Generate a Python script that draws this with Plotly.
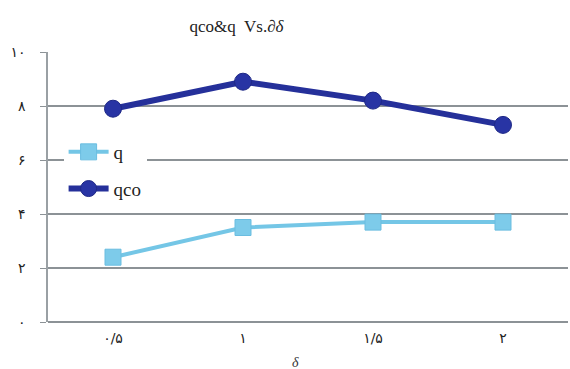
import plotly.graph_objects as go

# Categories along the δ axis (Persian numerals) and the two series
delta_labels = ["۰/۵", "۱", "۱/۵", "۲"]
q_values = [2.4, 3.5, 3.7, 3.7]
qco_values = [7.9, 8.9, 8.2, 7.3]

y_tick_vals = [0, 2, 4, 6, 8, 10]
y_tick_text = ["۰", "۲", "۴", "۶", "۸", "۱۰"]

SERIF = "Liberation Serif, Times New Roman, serif"

fig = go.Figure()

fig.add_trace(go.Scatter(
    x=delta_labels, y=q_values, name="q", mode="lines+markers",
    legendgroup="q",
    line=dict(color="#74C6E6", width=4),
    marker=dict(symbol="square", size=16, color="#7DCBEA",
                line=dict(color="#6BBDE0", width=1)),
))
fig.add_trace(go.Scatter(
    x=delta_labels, y=qco_values, name="qco", mode="lines+markers",
    legendgroup="qco",
    line=dict(color="#25309A", width=6),
    marker=dict(symbol="circle", size=17, color="#2834A4",
                line=dict(color="#1E2886", width=1)),
))

fig.update_layout(
    width=570, height=369,
    margin=dict(l=48, r=2, t=52, b=47),
    paper_bgcolor="white", plot_bgcolor="white",
    title=dict(text="qco&amp;q  Vs.<i>∂δ</i>", x=0.415, xanchor="center",
               y=0.93, yanchor="middle",
               font=dict(family=SERIF, size=17, color="#222")),
    showlegend=True,
    legend=dict(x=0.03, y=0.70, xanchor="left", yanchor="top",
                bgcolor="white", traceorder="grouped",
                font=dict(family=SERIF, size=19, color="#222"),
                itemwidth=40, tracegroupgap=9),
    font=dict(family="DejaVu Sans", color="#222"),
)

fig.update_xaxes(
    type="category", range=[-0.5, 3.5], showgrid=False, zeroline=False,
    showline=False, ticks="",
    tickfont=dict(size=14, family="DejaVu Sans"),
    ticklabelstandoff=6,
)
fig.update_yaxes(
    range=[0, 10], tickvals=y_tick_vals, ticktext=y_tick_text,
    showgrid=True, gridcolor="#8C9296", gridwidth=1.5,
    zeroline=True, zerolinecolor="#8C9296", zerolinewidth=2,
    showline=True, linecolor="#9AA0A4", linewidth=1.5,
    ticks="outside", ticklen=6, tickcolor="#8C9296",
    tickfont=dict(size=14, family="DejaVu Sans"),
    ticklabelstandoff=12,
)

# δ axis caption below the category labels
fig.add_annotation(text="<i>δ</i>", xref="paper", yref="paper",
                   x=0.475, y=-0.115, showarrow=False, yanchor="top",
                   font=dict(family=SERIF, size=14, color="#333"))

fig.write_html("out.html")
